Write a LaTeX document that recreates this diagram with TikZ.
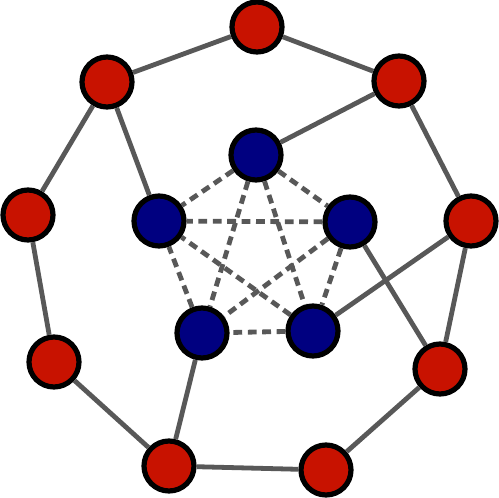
\documentclass[tikz,border=0pt]{standalone}
\usepackage{tikz}
\definecolor{ringred}{RGB}{200,18,0}
\definecolor{coreblue}{RGB}{0,0,128}
\definecolor{edgegray}{RGB}{88,88,88}
\tikzset{
    ringnode/.style={circle, minimum size=25pt, inner sep=0pt, draw=black, line width=2.6pt, fill=ringred},
    corenode/.style={circle, minimum size=25pt, inner sep=0pt, draw=black, line width=2.6pt, fill=coreblue},
    link/.style={edgegray, line width=2.4pt},
    clique/.style={edgegray, line width=2.4pt, dash pattern=on 4.4pt off 2.8pt}
}
\begin{document}
\begin{tikzpicture}[x=0.5pt, y=-0.5pt]
    \useasboundingbox (0,0) rectangle (499,498);
    % Outer ring
    \foreach \n/\x/\y in {1/257/27, 2/399/81, 3/471/221, 4/440/369, 5/326/470, 6/169/466, 7/54/362, 8/28/215, 9/107/82} {
        \node[ringnode] (r\n) at (\x,\y) {};
    }
    % Inner pentagon
    \foreach \n/\x/\y in {1/256/155, 2/350/222, 3/313/331, 4/202/333, 5/159/221} {
        \node[corenode] (c\n) at (\x,\y) {};
    }
    % Ring edges
    \foreach \a/\b in {1/2, 2/3, 3/4, 4/5, 5/6, 6/7, 7/8, 8/9, 9/1} {
        \draw[link] (r\a) -- (r\b);
    }
    % Spokes
    \draw[link] (c1) -- (r2);
    \draw[link] (c2) -- (r4);
    \draw[link] (c3) -- (r3);
    \draw[link] (c4) -- (r6);
    \draw[link] (c5) -- (r9);
    % Complete graph on the core
    \foreach \a/\b in {1/2, 1/3, 1/4, 1/5, 2/3, 2/4, 2/5, 3/4, 3/5, 4/5} {
        \draw[clique] (c\a) -- (c\b);
    }
\end{tikzpicture}
\end{document}
